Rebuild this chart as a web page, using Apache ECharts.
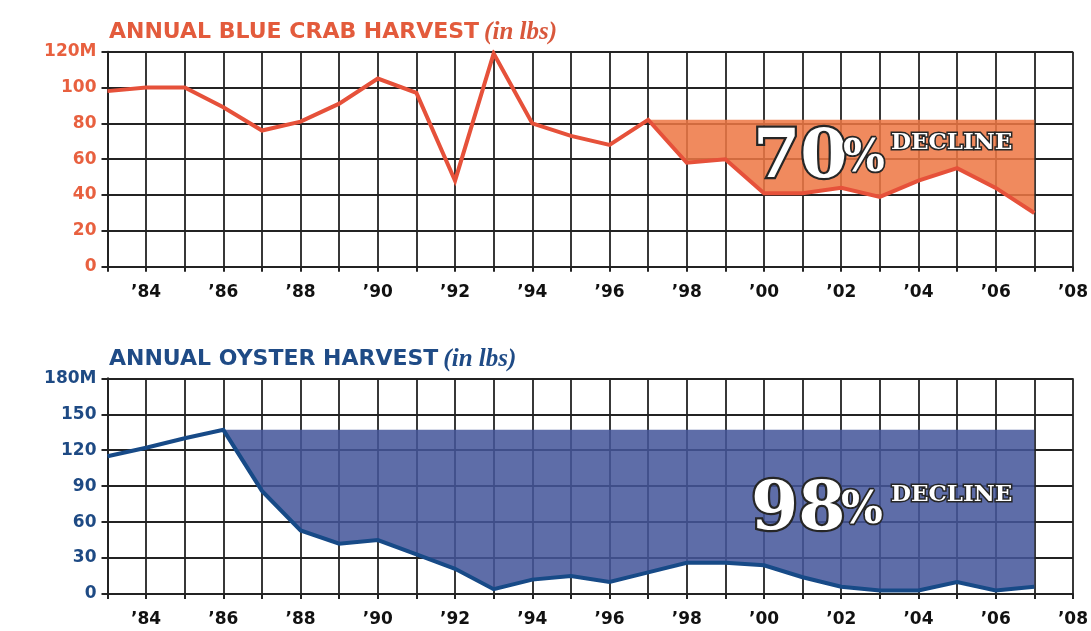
<!DOCTYPE html>
<html>
<head>
<meta charset="utf-8">
<script src="https://cdn.jsdelivr.net/npm/echarts@6/dist/echarts.min.js"></script>
<style>
html,body{margin:0;padding:0;background:#fff;}
#chart{width:1091px;height:631px;}
</style>
</head>
<body>
<div id="chart"></div>
<script>
// ---- data ----
const years = ['1983','1984','1985','1986','1987','1988','1989','1990','1991','1992','1993','1994','1995',
               '1996','1997','1998','1999','2000','2001','2002','2003','2004','2005','2006','2007','2008'];
const xTickLabels = ['', '\u201984', '', '\u201986', '', '\u201988', '', '\u201990', '', '\u201992', '', '\u201994', '',
                     '\u201996', '', '\u201998', '', '\u201900', '', '\u201902', '', '\u201904', '', '\u201906', '', '\u201908'];
const crabHarvest = [98,100,100,89,76,81,91,105,97,48,119,80,73,68,82,58,60,41,41,44,39,48,55,44,30,null];
const oysterHarvest = [115,122,130,137,86,53,42,45,33,21,4,12,15,10,18,26,26,24,14,6,3,3,10,3,6,null];
const crabYTicks = ['0','20','40','60','80','100','120M'];
const oysterYTicks = ['0','30','60','90','120','150','180M'];
const crabDeclineFrom = '1997';
const oysterDeclineFrom = '1986';
const crabTitle = 'ANNUAL BLUE CRAB HARVEST';
const oysterTitle = 'ANNUAL OYSTER HARVEST';
const unitText = '(in lbs)';
const crabDeclinePct = '70';
const oysterDeclinePct = '98';
const declineWord = 'DECLINE';

// ---- helpers ----
function bandSeries(values, fromYear) {
  const start = years.indexOf(fromYear);
  const top = values[start];
  const base = values.map((v, i) => (i >= start && v != null) ? v : null);
  const band = values.map((v, i) => (i >= start && v != null) ? top - v : null);
  return {base, band};
}
const crabBand = bandSeries(crabHarvest, crabDeclineFrom);
const oysterBand = bandSeries(oysterHarvest, oysterDeclineFrom);

const gridColor = '#232323';
function xAxisCfg(gridIndex) {
  return {
    type: 'category', gridIndex, data: years, boundaryGap: false,
    axisLine: {show: true, lineStyle: {color: gridColor, width: 2}},
    axisTick: {show: true, interval: 0, length: 5, lineStyle: {color: gridColor, width: 2}},
    splitLine: {show: true, interval: 0, lineStyle: {color: gridColor, width: 1.8}},
    axisLabel: {
      interval: 0, margin: 17, color: '#111',
      fontFamily: 'DejaVu Sans', fontWeight: 'bold', fontSize: 17,
      formatter: (v, i) => xTickLabels[i]
    }
  };
}
function yAxisCfg(gridIndex, max, interval, ticks, color) {
  return {
    type: 'value', gridIndex, min: 0, max, interval,
    axisLine: {show: true, lineStyle: {color: gridColor, width: 2}},
    axisTick: {show: true, length: 6, lineStyle: {color: gridColor, width: 2}},
    splitLine: {show: true, showMinLine: true, showMaxLine: true, lineStyle: {color: gridColor, width: 1.8}},
    axisLabel: {
      margin: 11, color, fontFamily: 'DejaVu Sans', fontWeight: 'bold', fontSize: 17,
      formatter: v => ticks[Math.round(v / interval)]
    }
  };
}

const crabColor = '#e6513a';
const crabLabel = '#e8603f';
const crabFill = '#ee7743';
const oysterColor = '#174a87';
const oysterLabel = '#1e4a84';
const oysterFill = '#44559a';

function declineText(x, y, pct, wordDx, wordDy) {
  const common = {fill: '#fff', stroke: '#262626',
                  shadowColor: 'rgba(0,0,0,0.35)', shadowBlur: 2, shadowOffsetX: 1.5, shadowOffsetY: 1.5};
  return [
    {type: 'text', x: x, y: y, z: 100,
     style: Object.assign({text: pct, font: 'bold 68px "DejaVu Serif"', align: 'left', verticalAlign: 'middle', lineWidth: 4.5}, common)},
    {type: 'text', x: x + 90, y: y + 1, z: 100,
     style: Object.assign({text: '%', font: 'bold 44px "DejaVu Serif"', align: 'left', verticalAlign: 'middle', lineWidth: 3.5}, common)},
    {type: 'text', x: x + wordDx, y: y + wordDy, z: 100,
     style: Object.assign({text: declineWord, font: 'bold 23px "DejaVu Serif"', align: 'left', verticalAlign: 'middle', lineWidth: 3}, common)}
  ];
}

const option = {
  backgroundColor: '#ffffff',
  animation: false,
  title: [
    {text: '{a|' + crabTitle + '} {b|' + unitText + '}', left: 104, top: 15,
     textStyle: {rich: {
       a: {fontFamily: 'DejaVu Sans', fontWeight: 'bold', fontSize: 22, color: '#e35b3c'},
       b: {fontFamily: 'Liberation Serif', fontStyle: 'italic', fontWeight: 'bold', fontSize: 25, color: '#d9583c'}
     }}},
    {text: '{a|' + oysterTitle + '} {b|' + unitText + '}', left: 104, top: 342,
     textStyle: {rich: {
       a: {fontFamily: 'DejaVu Sans', fontWeight: 'bold', fontSize: 22, color: '#1f4b86'},
       b: {fontFamily: 'Liberation Serif', fontStyle: 'italic', fontWeight: 'bold', fontSize: 25, color: '#1f4b86'}
     }}}
  ],
  grid: [
    {left: 107.5, top: 51.7, width: 965.5, height: 215},
    {left: 107.5, top: 378.3, width: 965.5, height: 215.7}
  ],
  xAxis: [xAxisCfg(0), xAxisCfg(1)],
  yAxis: [
    yAxisCfg(0, 120, 20, crabYTicks, crabLabel),
    yAxisCfg(1, 180, 30, oysterYTicks, oysterLabel)
  ],
  series: [
    {type: 'line', xAxisIndex: 0, yAxisIndex: 0, stack: 'crab', data: crabBand.base,
     symbol: 'none', lineStyle: {opacity: 0}, silent: true, z: 2},
    {type: 'line', xAxisIndex: 0, yAxisIndex: 0, stack: 'crab', data: crabBand.band,
     symbol: 'none', lineStyle: {opacity: 0}, areaStyle: {color: crabFill, opacity: 0.86}, silent: true, z: 2},
    {type: 'line', xAxisIndex: 0, yAxisIndex: 0, data: crabHarvest, symbol: 'none',
     lineStyle: {color: crabColor, width: 4, join: 'miter'}, z: 5},
    {type: 'line', xAxisIndex: 1, yAxisIndex: 1, stack: 'oyster', data: oysterBand.base,
     symbol: 'none', lineStyle: {opacity: 0}, silent: true, z: 2},
    {type: 'line', xAxisIndex: 1, yAxisIndex: 1, stack: 'oyster', data: oysterBand.band,
     symbol: 'none', lineStyle: {opacity: 0}, areaStyle: {color: oysterFill, opacity: 0.86}, silent: true, z: 2},
    {type: 'line', xAxisIndex: 1, yAxisIndex: 1, data: oysterHarvest, symbol: 'none',
     lineStyle: {color: oysterColor, width: 4, join: 'miter'}, z: 5}
  ],
  graphic: [].concat(
    declineText(753, 159, crabDeclinePct, 138, -16),
    declineText(751, 511, oysterDeclinePct, 140, -16)
  )
};

const chart = echarts.init(document.getElementById('chart'), null, {renderer: 'canvas'});
chart.setOption(option);
</script>
</body>
</html>
